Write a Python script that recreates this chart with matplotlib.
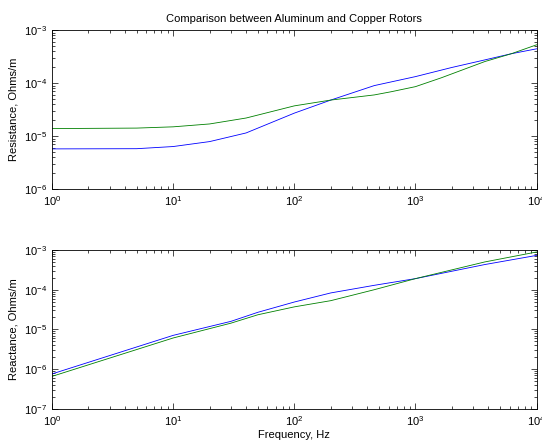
import matplotlib
matplotlib.use("Agg")
import matplotlib.pyplot as plt

plt.rcParams['font.family'] = ['Liberation Sans', 'DejaVu Sans']
plt.rcParams['mathtext.fontset'] = 'custom'
plt.rcParams['mathtext.rm'] = 'Liberation Sans'
plt.rcParams['mathtext.it'] = 'Liberation Sans'
plt.rcParams['mathtext.default'] = 'regular'

# Resistance (top)
freq_r_blue = [1, 5, 10, 20, 40, 100, 200, 457, 1000, 1980, 3740, 6200, 10000]
res_blue = [5.75e-6, 5.8e-6, 6.37e-6, 7.9e-6, 1.15e-5, 2.72e-5, 4.8e-5, 9.0e-5,
            1.33e-4, 1.97e-4, 2.75e-4, 3.6e-4, 4.45e-4]
freq_r_green = [1, 5, 10, 20, 40, 100, 200, 457, 632, 1000, 1630, 3740, 6200, 10000]
res_green = [1.39e-5, 1.42e-5, 1.5e-5, 1.7e-5, 2.2e-5, 3.73e-5, 4.8e-5, 6.0e-5, 6.9e-5,
             8.6e-5, 1.26e-4, 2.56e-4, 3.6e-4, 5.3e-4]

# Reactance (bottom)
freq_x_blue = [1, 10, 30, 50, 100, 200, 457, 1000, 3740, 10000]
react_blue = [7.6e-7, 7.1e-6, 1.6e-5, 2.7e-5, 4.9e-5, 8.3e-5, 1.29e-4, 1.9e-4, 4.3e-4, 7.3e-4]
freq_x_green = [1, 10, 30, 50, 100, 200, 457, 1000, 3740, 10000]
react_green = [6.6e-7, 6.1e-6, 1.44e-5, 2.34e-5, 3.7e-5, 5.3e-5, 1.0e-4, 1.9e-4, 5.0e-4, 8.9e-4]

title = "Comparison between Aluminum and Copper Rotors"
ylabel_top = "Resistance, Ohms/m"
ylabel_bot = "Reactance, Ohms/m"
xlabel = "Frequency, Hz"

fig = plt.figure(figsize=(5.42, 4.44), dpi=100)
ax1 = fig.add_axes([0.096, 0.574, 0.894, 0.358])
ax2 = fig.add_axes([0.096, 0.079, 0.894, 0.358])

blue = (0, 0, 1)
green = (0, 0.5, 0)

ax1.loglog(freq_r_blue, res_blue, color=blue, lw=0.6)
ax1.loglog(freq_r_green, res_green, color=green, lw=0.6)
ax1.set_xlim(1, 1e4)
ax1.set_ylim(1e-6, 1e-3)
ax1.set_title(title, fontsize=8, pad=6)
ax1.set_ylabel(ylabel_top, fontsize=8)

ax2.loglog(freq_x_blue, react_blue, color=blue, lw=0.6)
ax2.loglog(freq_x_green, react_green, color=green, lw=0.6)
ax2.set_xlim(1, 1e4)
ax2.set_ylim(1e-7, 1e-3)
ax2.set_ylabel(ylabel_bot, fontsize=8)
ax2.set_xlabel(xlabel, fontsize=8, labelpad=2)

for ax in (ax1, ax2):
    ax.tick_params(which='both', direction='in', top=True, right=True, labelsize=8, width=0.5)
    ax.tick_params(which='major', length=4)
    ax.tick_params(which='minor', length=2)
    for s in ax.spines.values():
        s.set_linewidth(0.6)

fig.savefig("out.png", dpi=100)
